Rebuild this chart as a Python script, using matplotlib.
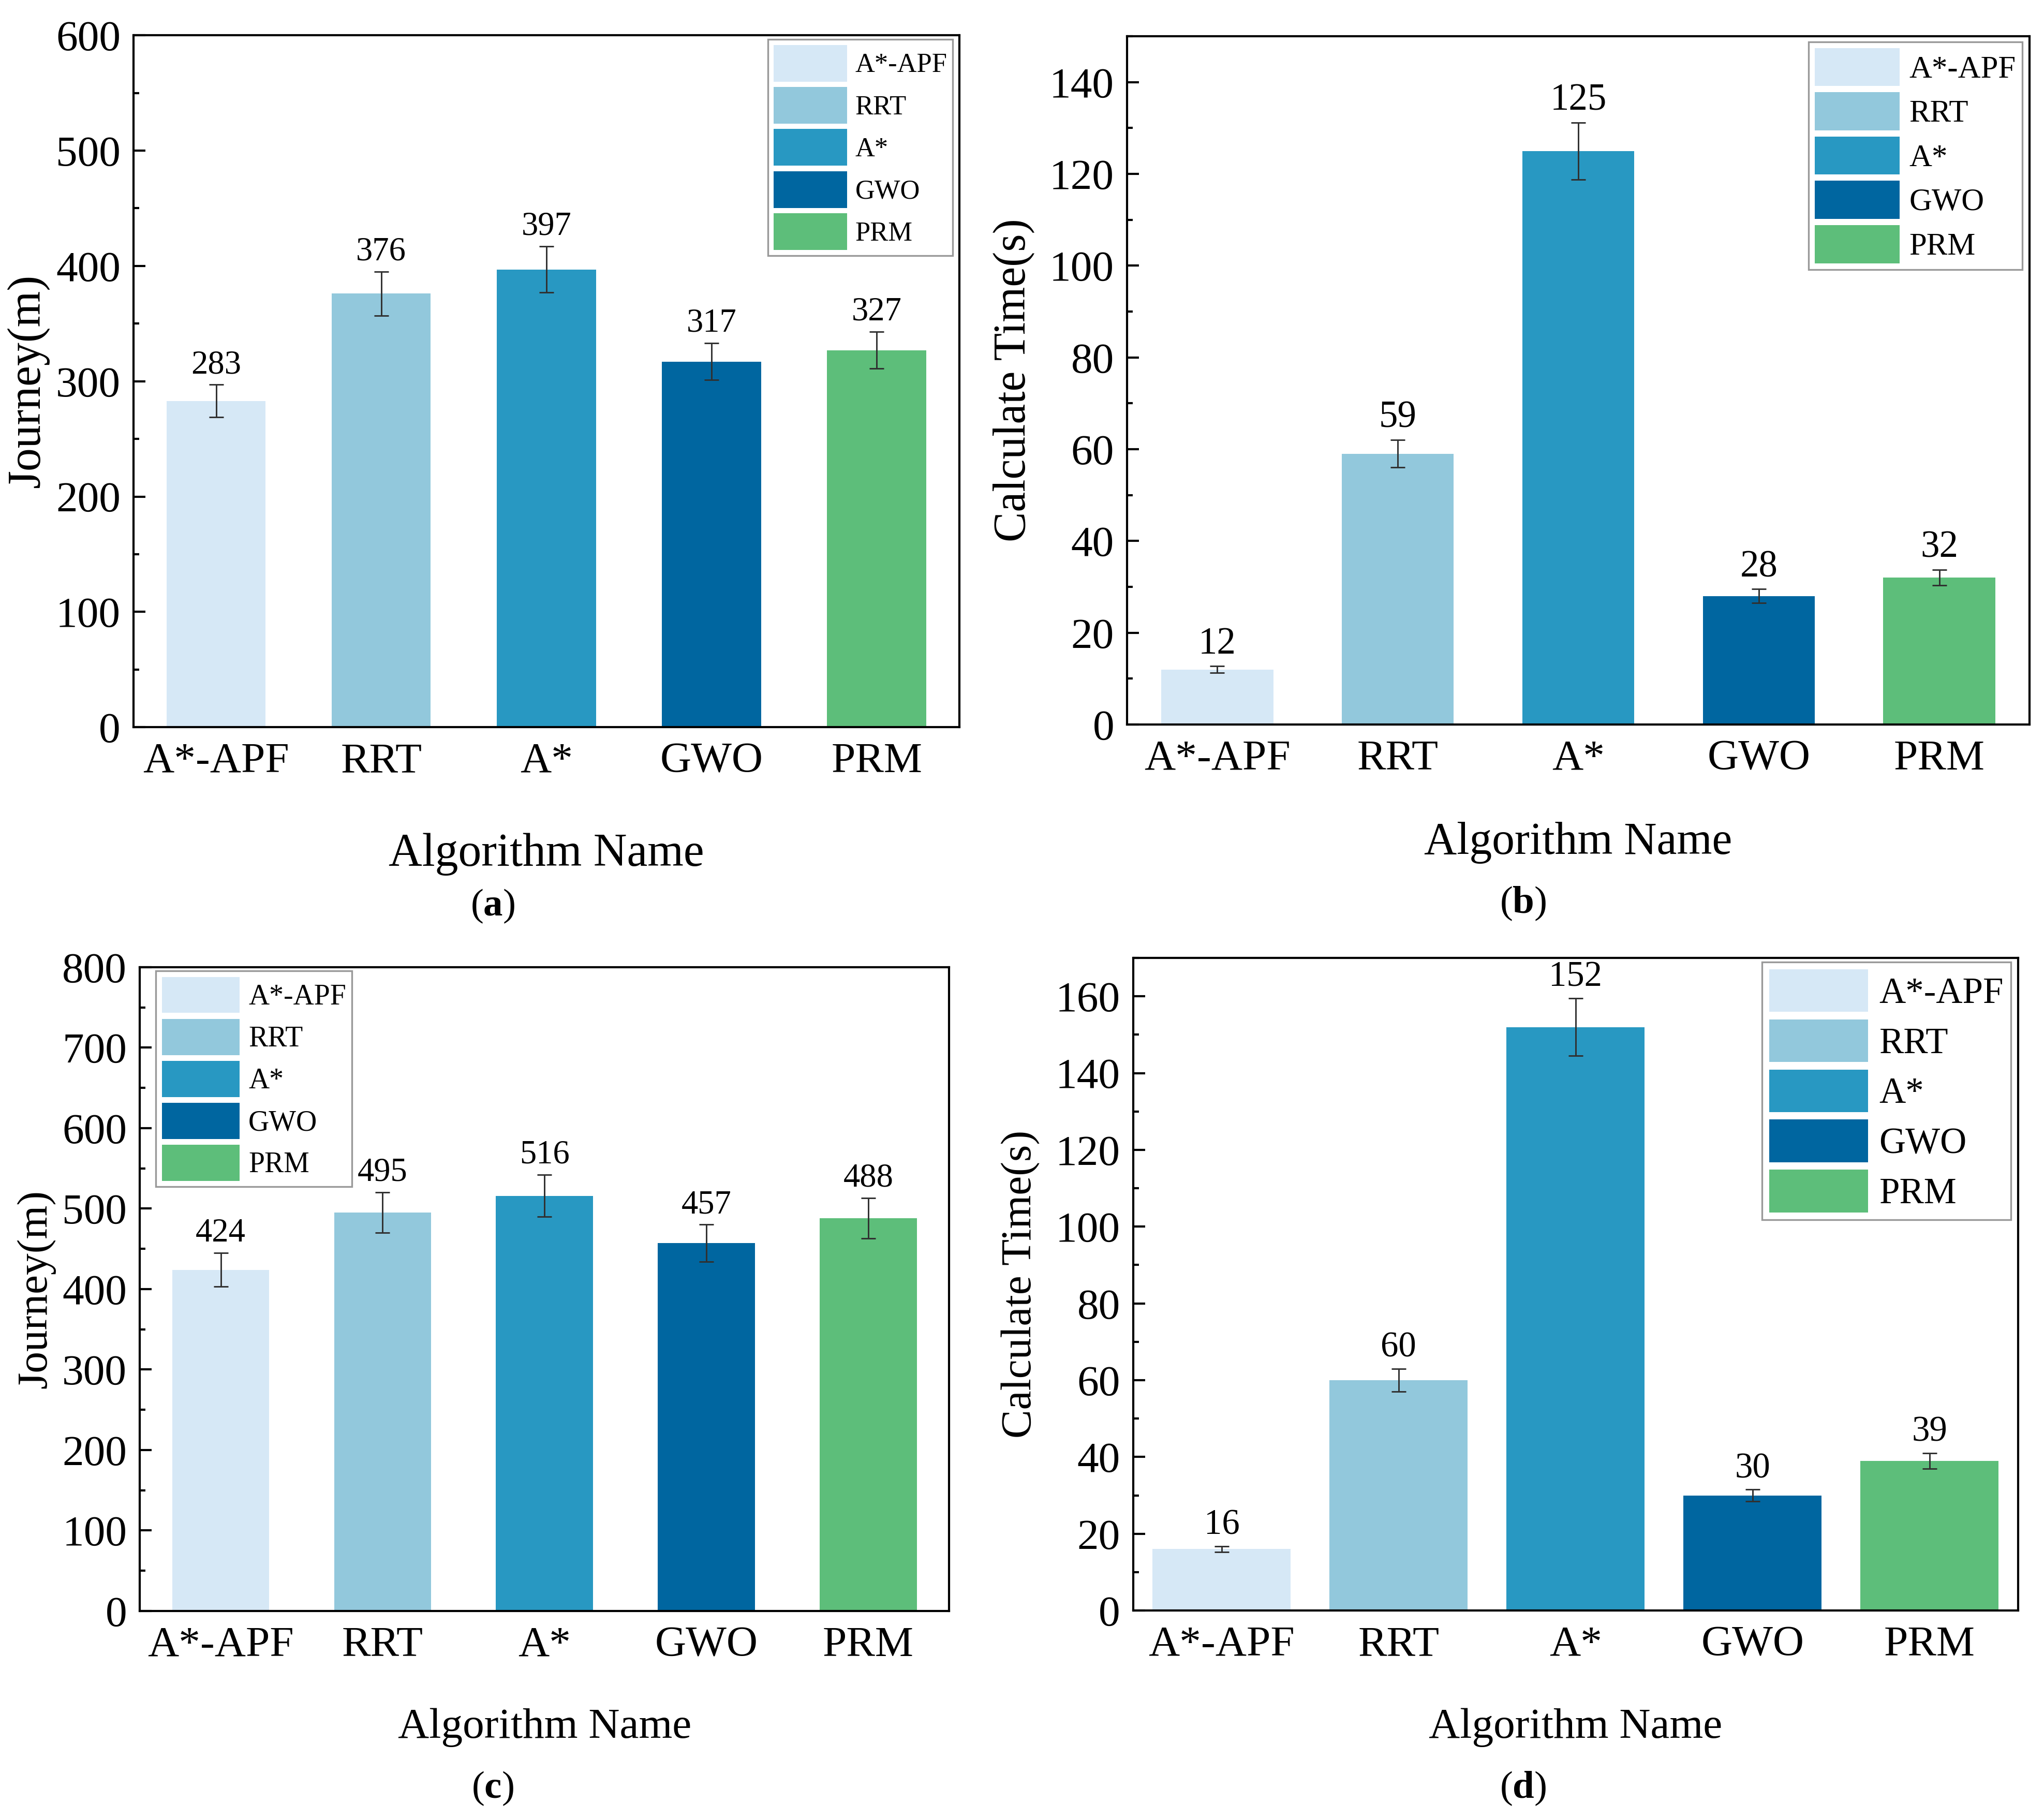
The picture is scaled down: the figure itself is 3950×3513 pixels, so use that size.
import numpy as np
import matplotlib
matplotlib.use("Agg")
import matplotlib.pyplot as plt
from matplotlib.ticker import MultipleLocator

plt.rcParams['font.family'] = ['Liberation Serif', 'DejaVu Serif']
plt.rcParams['mathtext.fontset'] = 'custom'
plt.rcParams['mathtext.rm'] = 'Liberation Serif'
plt.rcParams['mathtext.bf'] = 'Liberation Serif:bold'

algorithms = ['A*-APF', 'RRT', 'A*', 'GWO', 'PRM']
colors = ['#D6E8F6', '#92C8DC', '#2898C2', '#0066A0', '#5DBE7A']

journey_a = [283, 376, 397, 317, 327]
journey_a_err = [14, 19, 20, 16, 16]
time_b = [12, 59, 125, 28, 32]
time_b_err = [0.7, 3, 6.2, 1.5, 1.7]
journey_c = [424, 495, 516, 457, 488]
journey_c_err = [21, 25, 26, 23, 25]
time_d = [16, 60, 152, 30, 39]
time_d_err = [0.8, 3, 7.5, 1.5, 2]

W, H = 3950, 3513
fig = plt.figure(figsize=(W / 300, H / 300), dpi=300)


def makePanel(rect, vals, errs, ylabel, ymax, major, minor, width,
              leg_loc, leg_size, leg_anchor, leg_hh, valsize, ylpad, xlpad, lblsize):
    ax = fig.add_axes(rect)
    x = np.arange(len(algorithms))
    bars = ax.bar(x, vals, width, color=colors, label=algorithms, zorder=2)
    ax.errorbar(x, vals, yerr=errs, fmt='none', ecolor='#303030',
                elinewidth=0.7, capsize=3.3, capthick=0.7, zorder=3)
    for xi, v, e in zip(x, vals, errs):
        ax.annotate(str(v), (xi, v + e), xytext=(0, 2), textcoords='offset points',
                    ha='center', va='bottom', fontsize=valsize)
    ax.set_xlim(-0.5, len(algorithms) - 0.5)
    ax.set_ylim(0, ymax)
    ax.yaxis.set_major_locator(MultipleLocator(major))
    ax.yaxis.set_minor_locator(MultipleLocator(minor))
    ax.set_xticks(x)
    ax.set_xticklabels(algorithms)
    ax.tick_params(axis='x', length=0, pad=7, labelsize=20)
    ax.tick_params(axis='y', which='major', direction='in', length=5.5, width=1.0,
                   pad=6, labelsize=20)
    ax.tick_params(axis='y', which='minor', direction='in', length=2.7, width=1.0)
    for s in ax.spines.values():
        s.set_linewidth(1.0)
    ax.set_ylabel(ylabel, fontsize=lblsize, labelpad=ylpad)
    ax.set_xlabel('Algorithm Name', fontsize=lblsize, labelpad=xlpad)
    leg = ax.legend(bars, algorithms, loc=leg_loc, bbox_to_anchor=leg_anchor,
                    fontsize=leg_size, handlelength=2.7, handleheight=leg_hh,
                    labelspacing=0.2, handletextpad=0.3, borderpad=0.2,
                    borderaxespad=0.0, fancybox=False, edgecolor='#808080')
    leg.get_frame().set_linewidth(0.8)
    return ax


makePanel([0.0653, 0.600, 0.404, 0.3806], journey_a, journey_a_err, 'Journey(m)',
          600, 100, 50, 0.6, 'upper right', 12.6, (0.992, 0.994), 1.7, 15.5, 3, 24, 21.5)
makePanel([0.5514, 0.6015, 0.4415, 0.3786], time_b, time_b_err, 'Calculate Time(s)',
          150, 20, 10, 0.62, 'upper right', 14.6, (0.992, 0.992), 1.48, 17.5, 7, 20, 21)
makePanel([0.0684, 0.1139, 0.396, 0.3541], journey_c, journey_c_err, 'Journey(m)',
          800, 100, 50, 0.6, 'upper left', 13.4, (0.02, 0.994), 1.55, 15.5, 3, 20, 20)
makePanel([0.5544, 0.1141, 0.4329, 0.359], time_d, time_d_err, 'Calculate Time(s)',
          170, 20, 10, 0.78, 'upper right', 17, (0.992, 0.994), 1.42, 16.5, 7, 20, 20)

for lab, (fx, fy) in zip('abcd', [(0.241, 0.5016), (0.745, 0.503),
                                  (0.241, 0.0162), (0.745, 0.0162)]):
    fig.text(fx, fy, '($\\mathbf{%s}$)' % lab, ha='center', va='center', fontsize=18)

fig.savefig('out.png', dpi=300)
